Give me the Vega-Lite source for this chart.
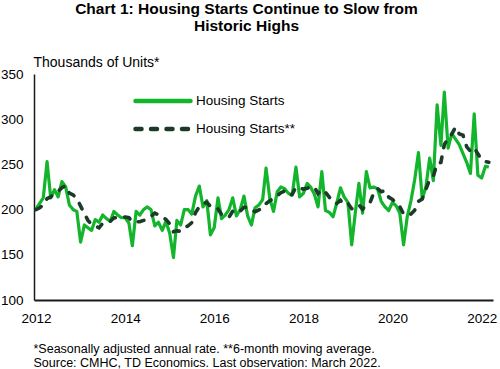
{
  "$schema": "https://vega.github.io/schema/vega-lite/v6.json",
  "width": 459,
  "height": 226,
  "autosize": {"type": "none"},
  "padding": {"left": 34, "top": 74, "right": 7, "bottom": 69},
  "background": "white",
  "config": {"view": {"stroke": null}, "font": "Liberation Sans"},
  "title": {
    "text": ["Chart 1: Housing Starts Continue to Slow from", "Historic Highs"],
    "fontSize": 15.5,
    "fontWeight": "bold",
    "font": "Liberation Sans",
    "color": "#000000",
    "lineHeight": 17,
    "anchor": "middle",
    "dx": -17,
    "offset": 21
  },
  "data": {
    "values": [
      {"d": "2012-01-01", "s": 201, "m": 200},
      {"d": "2012-02-01", "s": 207, "m": 202},
      {"d": "2012-03-01", "s": 213, "m": 205},
      {"d": "2012-04-01", "s": 253, "m": 212},
      {"d": "2012-05-01", "s": 213, "m": 214},
      {"d": "2012-06-01", "s": 222, "m": 218.2},
      {"d": "2012-07-01", "s": 214, "m": 220.3},
      {"d": "2012-08-01", "s": 231, "m": 224.3},
      {"d": "2012-09-01", "s": 225, "m": 226.3},
      {"d": "2012-10-01", "s": 205, "m": 218.3},
      {"d": "2012-11-01", "s": 200, "m": 216.2},
      {"d": "2012-12-01", "s": 198, "m": 212.2},
      {"d": "2013-01-01", "s": 164, "m": 203.8},
      {"d": "2013-02-01", "s": 183, "m": 195.8},
      {"d": "2013-03-01", "s": 180, "m": 188.3},
      {"d": "2013-04-01", "s": 177, "m": 183.7},
      {"d": "2013-05-01", "s": 189, "m": 181.8},
      {"d": "2013-06-01", "s": 186, "m": 179.8},
      {"d": "2013-07-01", "s": 194, "m": 184.8},
      {"d": "2013-08-01", "s": 190, "m": 186},
      {"d": "2013-09-01", "s": 187, "m": 187.2},
      {"d": "2013-10-01", "s": 198, "m": 190.7},
      {"d": "2013-11-01", "s": 194, "m": 191.5},
      {"d": "2013-12-01", "s": 191, "m": 192.3},
      {"d": "2014-01-01", "s": 191, "m": 191.8},
      {"d": "2014-02-01", "s": 185, "m": 191},
      {"d": "2014-03-01", "s": 160, "m": 186.5},
      {"d": "2014-04-01", "s": 198, "m": 186.5},
      {"d": "2014-05-01", "s": 194, "m": 186.5},
      {"d": "2014-06-01", "s": 200, "m": 188},
      {"d": "2014-07-01", "s": 203, "m": 190},
      {"d": "2014-08-01", "s": 200, "m": 192.5},
      {"d": "2014-09-01", "s": 182, "m": 196.2},
      {"d": "2014-10-01", "s": 186, "m": 194.2},
      {"d": "2014-11-01", "s": 177, "m": 191.3},
      {"d": "2014-12-01", "s": 187, "m": 189.2},
      {"d": "2015-01-01", "s": 174, "m": 184.3},
      {"d": "2015-02-01", "s": 147, "m": 175.5},
      {"d": "2015-03-01", "s": 188, "m": 176.5},
      {"d": "2015-04-01", "s": 183, "m": 176},
      {"d": "2015-05-01", "s": 200, "m": 179.8},
      {"d": "2015-06-01", "s": 200, "m": 182},
      {"d": "2015-07-01", "s": 195, "m": 185.5},
      {"d": "2015-08-01", "s": 215, "m": 196.8},
      {"d": "2015-09-01", "s": 226, "m": 203.2},
      {"d": "2015-10-01", "s": 203, "m": 206.5},
      {"d": "2015-11-01", "s": 210, "m": 208.2},
      {"d": "2015-12-01", "s": 172, "m": 203.5},
      {"d": "2016-01-01", "s": 180, "m": 201},
      {"d": "2016-02-01", "s": 213, "m": 200.7},
      {"d": "2016-03-01", "s": 190, "m": 194.7},
      {"d": "2016-04-01", "s": 194, "m": 193.2},
      {"d": "2016-05-01", "s": 200, "m": 191.5},
      {"d": "2016-06-01", "s": 213, "m": 198.3},
      {"d": "2016-07-01", "s": 193, "m": 200.5},
      {"d": "2016-08-01", "s": 200, "m": 198.3},
      {"d": "2016-09-01", "s": 215, "m": 202.5},
      {"d": "2016-10-01", "s": 193, "m": 202.3},
      {"d": "2016-11-01", "s": 183, "m": 199.5},
      {"d": "2016-12-01", "s": 202, "m": 197.7},
      {"d": "2017-01-01", "s": 205, "m": 199.7},
      {"d": "2017-02-01", "s": 211, "m": 201.5},
      {"d": "2017-03-01", "s": 246, "m": 206.7},
      {"d": "2017-04-01", "s": 212, "m": 209.8},
      {"d": "2017-05-01", "s": 198, "m": 212.3},
      {"d": "2017-06-01", "s": 220, "m": 215.3},
      {"d": "2017-07-01", "s": 225, "m": 218.7},
      {"d": "2017-08-01", "s": 223, "m": 220.7},
      {"d": "2017-09-01", "s": 218, "m": 216},
      {"d": "2017-10-01", "s": 216, "m": 216.7},
      {"d": "2017-11-01", "s": 247, "m": 224.8},
      {"d": "2017-12-01", "s": 214, "m": 223.8},
      {"d": "2018-01-01", "s": 218, "m": 222.7},
      {"d": "2018-02-01", "s": 229, "m": 223.7},
      {"d": "2018-03-01", "s": 225, "m": 224.8},
      {"d": "2018-04-01", "s": 217, "m": 225},
      {"d": "2018-05-01", "s": 203, "m": 217.7},
      {"d": "2018-06-01", "s": 242, "m": 222.3},
      {"d": "2018-07-01", "s": 199, "m": 219.2},
      {"d": "2018-08-01", "s": 197, "m": 213.8},
      {"d": "2018-09-01", "s": 192, "m": 208.3},
      {"d": "2018-10-01", "s": 207, "m": 206.7},
      {"d": "2018-11-01", "s": 224, "m": 210.2},
      {"d": "2018-12-01", "s": 214, "m": 205.5},
      {"d": "2019-01-01", "s": 208, "m": 207},
      {"d": "2019-02-01", "s": 161, "m": 201},
      {"d": "2019-03-01", "s": 195, "m": 201.5},
      {"d": "2019-04-01", "s": 229, "m": 205.2},
      {"d": "2019-05-01", "s": 196, "m": 200.5},
      {"d": "2019-06-01", "s": 242, "m": 205.2},
      {"d": "2019-07-01", "s": 224, "m": 207.8},
      {"d": "2019-08-01", "s": 225, "m": 218.5},
      {"d": "2019-09-01", "s": 223, "m": 223.2},
      {"d": "2019-10-01", "s": 209, "m": 219.8},
      {"d": "2019-11-01", "s": 203, "m": 221},
      {"d": "2019-12-01", "s": 199, "m": 213.8},
      {"d": "2020-01-01", "s": 208, "m": 211.2},
      {"d": "2020-02-01", "s": 204, "m": 207.7},
      {"d": "2020-03-01", "s": 196, "m": 203.2},
      {"d": "2020-04-01", "s": 161, "m": 195.2},
      {"d": "2020-05-01", "s": 192, "m": 193.3},
      {"d": "2020-06-01", "s": 210, "m": 195.2},
      {"d": "2020-07-01", "s": 233, "m": 199.3},
      {"d": "2020-08-01", "s": 263, "m": 209.2},
      {"d": "2020-09-01", "s": 212, "m": 211.8},
      {"d": "2020-10-01", "s": 225, "m": 222.5},
      {"d": "2020-11-01", "s": 257, "m": 233.3},
      {"d": "2020-12-01", "s": 232, "m": 237},
      {"d": "2021-01-01", "s": 316, "m": 250.8},
      {"d": "2021-02-01", "s": 271, "m": 252.2},
      {"d": "2021-03-01", "s": 330, "m": 271.8},
      {"d": "2021-04-01", "s": 268, "m": 279},
      {"d": "2021-05-01", "s": 284, "m": 283.5},
      {"d": "2021-06-01", "s": 278, "m": 291.2},
      {"d": "2021-07-01", "s": 272, "m": 283.8},
      {"d": "2021-08-01", "s": 262, "m": 282.3},
      {"d": "2021-09-01", "s": 252, "m": 269.3},
      {"d": "2021-10-01", "s": 240, "m": 264.7},
      {"d": "2021-11-01", "s": 306, "m": 268.3},
      {"d": "2021-12-01", "s": 238, "m": 261.7},
      {"d": "2022-01-01", "s": 235, "m": 255.5},
      {"d": "2022-02-01", "s": 248, "m": 253.2},
      {"d": "2022-03-01", "s": 247, "m": 252.3}
    ]
  },
  "transform": [{"fold": ["s", "m"], "as": ["series", "value"]}],
  "encoding": {
    "x": {
      "field": "d",
      "type": "temporal",
      "scale": {
        "type": "utc",
        "domain": [
          {"year": 2011, "month": 12, "date": 16, "utc": true},
          {"year": 2022, "month": 4, "date": 4, "utc": true}
        ]
      },
      "axis": {
        "values": [
          {"year": 2012, "month": 1, "date": 1, "utc": true},
          {"year": 2014, "month": 1, "date": 1, "utc": true},
          {"year": 2016, "month": 1, "date": 1, "utc": true},
          {"year": 2018, "month": 1, "date": 1, "utc": true},
          {"year": 2020, "month": 1, "date": 1, "utc": true},
          {"year": 2022, "month": 1, "date": 1, "utc": true}
        ],
        "format": "%Y",
        "formatType": "utc",
        "labelFontSize": 13.5,
        "labelColor": "#000000",
        "labelPadding": 11,
        "labelOverlap": false,
        "labelFlush": false,
        "ticks": false,
        "grid": false,
        "domainColor": "#1a1a1a",
        "domainWidth": 2,
        "title": ["*Seasonally  adjusted annual rate. **6-month  moving average.", "Source: CMHC,  TD Economics.  Last observation: March 2022."],
        "titleFontSize": 12.5,
        "titleFontWeight": "normal",
        "titleColor": "#000000",
        "titleLineHeight": 14,
        "titleAlign": "left",
        "titleBaseline": "top",
        "titleX": -1,
        "titleY": 42
      }
    },
    "y": {
      "field": "value",
      "type": "quantitative",
      "scale": {"domain": [100, 350], "nice": false, "zero": false},
      "axis": {
        "values": [100, 150, 200, 250, 300, 350],
        "labelFontSize": 13.5,
        "labelColor": "#000000",
        "labelPadding": 11,
        "ticks": false,
        "grid": false,
        "domainColor": "#1a1a1a",
        "domainWidth": 1.5,
        "title": "Thousands of Units*",
        "titleAngle": 0,
        "titleFontSize": 14,
        "titleFontWeight": "normal",
        "titleColor": "#000000",
        "titleAlign": "left",
        "titleBaseline": "middle",
        "titleX": -1,
        "titleY": -12
      }
    },
    "color": {
      "field": "series",
      "type": "nominal",
      "scale": {"domain": ["s", "m"], "range": ["#12B52B", "#1C3A28"]},
      "legend": {
        "orient": "none",
        "legendX": 99,
        "legendY": 20,
        "title": null,
        "symbolType": "stroke",
        "symbolSize": 3025,
        "symbolStrokeWidth": 4.5,
        "clipHeight": 14,
        "labelFontSize": 13.5,
        "labelColor": "#000000",
        "labelOffset": 3,
        "rowPadding": 14,
        "labelExpr": "datum.value == 's' ? 'Housing Starts' : 'Housing Starts**'",
        "encode": {
          "symbols": {
            "update": {
              "strokeDash": {"signal": "datum.value == 'm' ? [11, 17] : [100, 0]"},
              "strokeCap": {"value": "round"}
            }
          }
        }
      }
    },
    "strokeDash": {
      "field": "series",
      "type": "nominal",
      "scale": {"domain": ["s", "m"], "range": [[1, 0], [6, 9.5]]},
      "legend": null
    }
  },
  "layer": [
    {
      "transform": [{"filter": "datum.series == 's'"}],
      "mark": {"type": "line", "strokeWidth": 3.2, "strokeJoin": "round"}
    },
    {
      "transform": [{"filter": "datum.series == 'm'"}],
      "mark": {"type": "line", "strokeWidth": 3.6, "strokeCap": "round"}
    }
  ]
}
